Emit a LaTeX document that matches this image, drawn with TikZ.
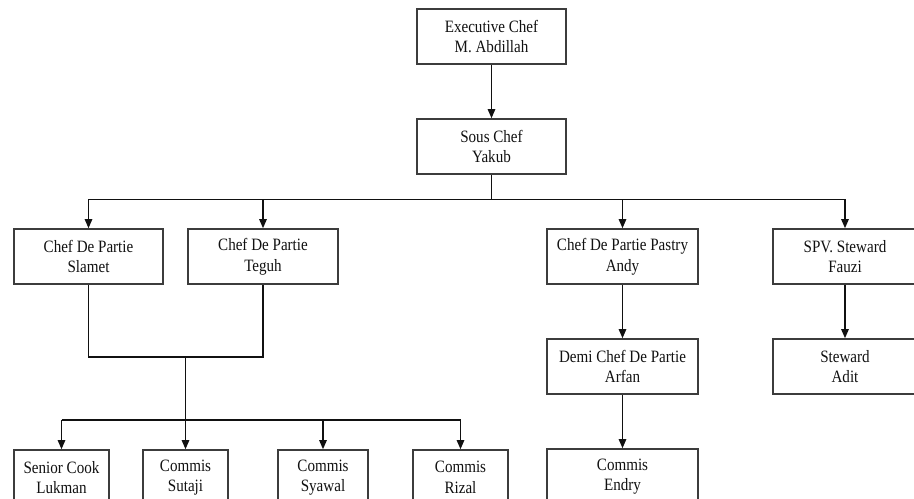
\documentclass[tikz,border=0pt]{standalone}
\usepackage{fontspec}
\setmainfont{Liberation Serif}[FakeStretch=0.87]
\usetikzlibrary{arrows.meta}
\definecolor{orgInk}{HTML}{111111}
\definecolor{orgEdge}{HTML}{3C3C3C}
\tikzset{
 org/.style={font=\fontsize{13pt}{15.5pt}\selectfont,line cap=butt,line join=miter,text=orgInk},
 post/.style={rectangle,draw=orgEdge,fill=white,line width=1.2pt,inner sep=0pt,
   minimum width=111.75pt,minimum height=41.25pt,align=center},
 link/.style={draw=orgInk,line width=1.1pt},
 feed/.style={link,-{Triangle[length=6.8pt,width=5.6pt]}}
}

\begin{document}
\begin{tikzpicture}[org,x=.75pt,y=-.75pt]
 \useasboundingbox (0,0) rectangle (914,499);
 \clip (0,0) rectangle (914,499);
 \node[post] (exec) at (491.5,36.5) {Executive Chef\\M. Abdillah};
 \node[post] (sous) at (491.5,146.5) {Sous Chef\\Yakub};
 \node[post] (cdpSlamet) at (88.5,256.5) {Chef De Partie\\Slamet};
 \node[post,minimum width=112.5pt] (cdpTeguh) at (263,256.5) {Chef De Partie\\Teguh};
 \node[post,minimum width=113.25pt] (cdpPastry) at (622.5,256.5) {Chef De Partie Pastry\\Andy};
 \node[post,minimum width=108pt] (spvSteward) at (845,256.5) {SPV. Steward\\Fauzi};
 \node[post,minimum width=113.25pt] (demi) at (622.5,366.5) {Demi Chef De Partie\\Arfan};
 \node[post,minimum width=108pt] (steward) at (845,366.5) {Steward\\Adit};
 \node[post,minimum width=113.25pt] (commisEndry) at (622.5,476.5) {Commis\\Endry};
 \node[post,minimum width=71.25pt] (seniorCook) at (61.5,477.5) {Senior Cook\\Lukman};
 \node[post,minimum width=63.75pt] (commisSutaji) at (185.5,477.5) {Commis\\Sutaji};
 \node[post,minimum width=67.5pt] (commisSyawal) at (323,477.5) {Commis\\Syawal};
 \node[post,minimum width=71.25pt] (commisRizal) at (460.5,477.5) {Commis\\Rizal};
 \coordinate (busTop) at (491.5,199.5);
 \coordinate (joinKitchen) at (185.5,357);
 \coordinate (busLow) at (185.5,420);
 \draw[feed] (exec) -- (sous);
 \draw[link] (sous) -- (busTop);
 \draw[link] (busTop -| cdpSlamet) -- (busTop -| spvSteward);
 \foreach \n in {cdpSlamet,cdpTeguh,cdpPastry,spvSteward}{\draw[feed] (busTop -| \n) -- (\n);}
 \draw[link] (cdpSlamet) |- (joinKitchen) -| (cdpTeguh);
 \draw[link] (joinKitchen) -- (busLow);
 \draw[link] (busLow -| seniorCook) -- (busLow -| commisRizal);
 \foreach \n in {seniorCook,commisSutaji,commisSyawal,commisRizal}{\draw[feed] (busLow -| \n) -- (\n);}
 \draw[feed] (cdpPastry) -- (demi);
 \draw[feed] (demi) -- (commisEndry);
 \draw[feed] (spvSteward) -- (steward);
\end{tikzpicture}
\end{document}
